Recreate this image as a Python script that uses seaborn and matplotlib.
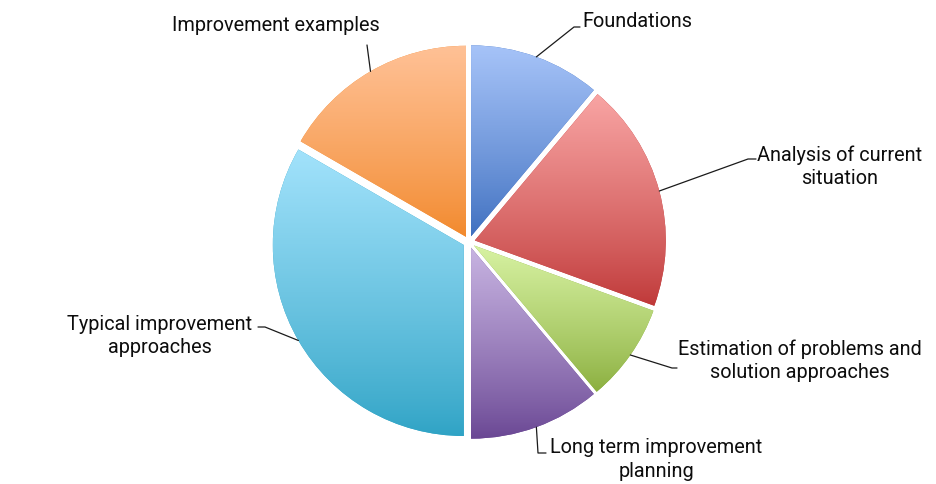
import numpy as np
import matplotlib
matplotlib.use("Agg")
import matplotlib.pyplot as plt
import seaborn as sns
from matplotlib.colors import LinearSegmentedColormap

# ---- data ----
categories = [
    "Foundations",
    "Analysis of current\nsituation",
    "Estimation of problems and\nsolution approaches",
    "Long term improvement\nplanning",
    "Typical improvement\napproaches",
    "Improvement examples",
]
values = [4, 7, 3, 4, 12, 6]

# ---- styles ----
light_colors = ["#a6c3f8", "#f8a4a3", "#d7f2a2", "#c7b3e1", "#a2e2fb", "#ffc196"]
dark_colors = ["#3e6fbf", "#bf3838", "#8aae3e", "#694693", "#2fa3c5", "#f2892c"]

sns.set_theme(style="white")
plt.rcParams['font.family'] = ['Roboto', 'DejaVu Sans']

W, H = 936, 484
fig = plt.figure(figsize=(W / 100, H / 100), dpi=100)
ax = fig.add_axes([0, 0, 1, 1])

cx, cy, R = 469, H - 242, 191
gap = 6.0
wedges, _ = ax.pie(values, radius=R, center=(cx, cy), startangle=90,
                   counterclock=False, explode=[gap] * len(values),
                   wedgeprops=dict(linewidth=0), frame=True)

grad = (np.linspace(0, 1, 256) ** 0.85).reshape(-1, 1)
for w, lc, dc in zip(wedges, light_colors, dark_colors):
    ext = w.get_path().get_extents(w.get_patch_transform())
    cmap = LinearSegmentedColormap.from_list("g", [dc, lc])
    w.set_facecolor(dc)
    im = ax.imshow(grad, extent=[ext.x0, ext.x1, ext.y0, ext.y1], origin="lower",
                   cmap=cmap, aspect="auto", interpolation="bilinear", zorder=2)
    im.set_clip_path(w)

# ---- labels (pixel layout, y from top) ----
label_pos = [(582, 21.5, "left"), (840, 166.5, "center"), (800, 360.5, "center"),
             (656, 459.5, "center"), (160, 336, "center"), (276, 25.5, "center")]
elbows = [(574, 27), (748, 159), (672, 368), (538, 453), (265, 327), (367, 45)]
ends = [(580, 27), (756, 159), (677, 368), (546, 453), (258, 327), None]

for w, lab, (tx, ty, ha), el, en in zip(wedges, categories, label_pos, elbows, ends):
    tm = np.deg2rad(0.5 * (w.theta1 + w.theta2))
    sx = w.center[0] + w.r * np.cos(tm)
    sy = w.center[1] + w.r * np.sin(tm)
    xs = [sx, el[0]]
    ys = [sy, H - el[1]]
    if en is not None:
        xs.append(en[0])
        ys.append(H - en[1])
    ax.plot(xs, ys, color="#1a1a1a", lw=0.9, zorder=3)
    ax.text(tx, H - ty, lab, ha=ha, va="center", multialignment="center",
            fontsize=14.3, color="#0d0d0d", linespacing=1.3, zorder=4)

ax.set_xlim(0, W)
ax.set_ylim(0, H)
ax.set_aspect("equal")
ax.axis("off")
fig.savefig("out.png", dpi=100, facecolor="white")
